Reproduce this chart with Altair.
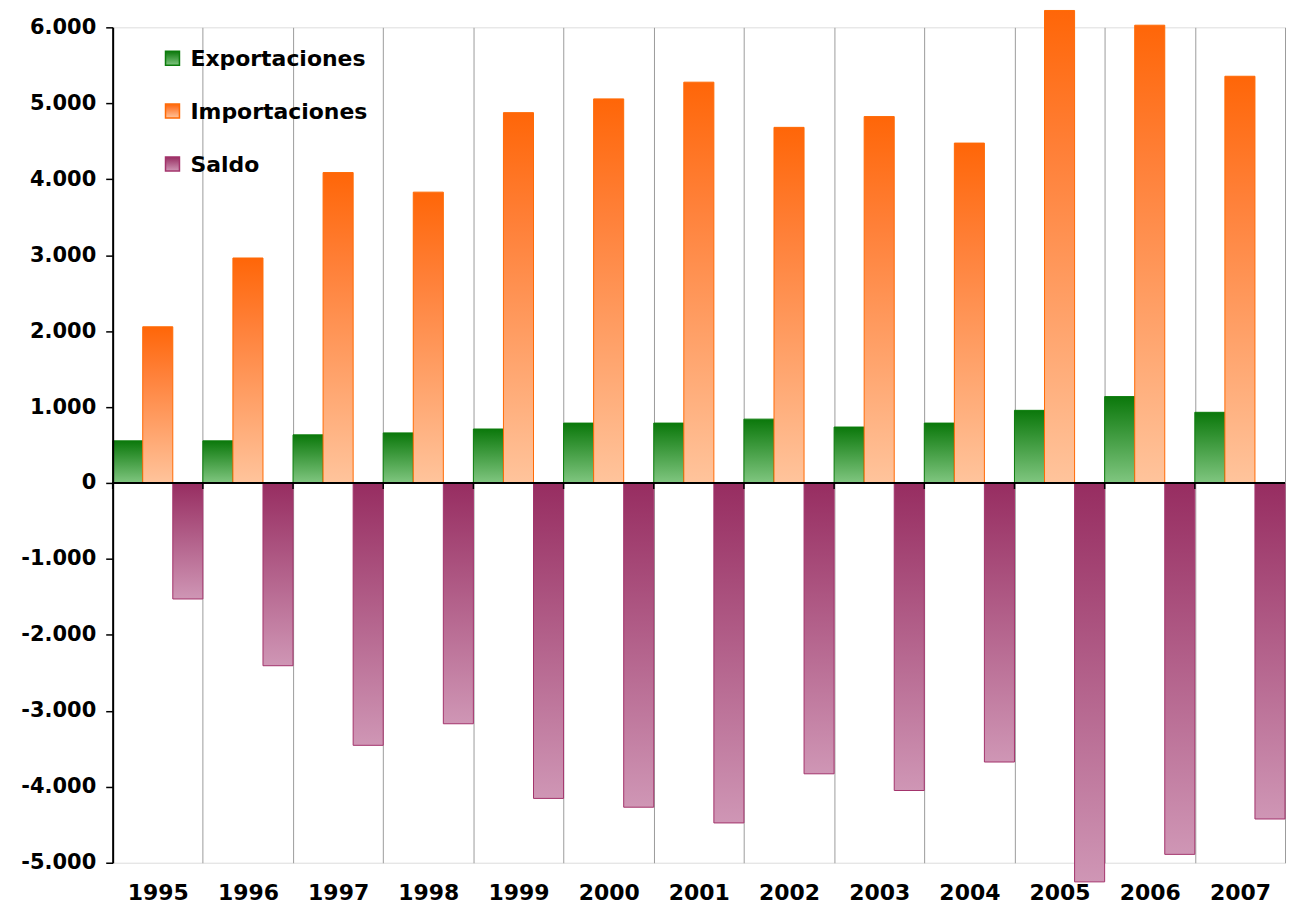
import altair as alt
import pandas as pd

years = ["1995", "1996", "1997", "1998", "1999", "2000", "2001",
         "2002", "2003", "2004", "2005", "2006", "2007"]
series = ["Exportaciones", "Importaciones", "Saldo"]
exportaciones = [555, 555, 634, 660, 711, 789, 789, 841, 737, 789, 957, 1138, 931]
importaciones = [2057, 2963, 4088, 3830, 4877, 5058, 5278, 4683, 4825, 4476, 6222, 6028, 5356]
saldo = [-1527, -2406, -3454, -3170, -4153, -4269, -4476, -3829, -4049, -3674, -5252, -4890, -4424]
y_ticks = [-5000, -4000, -3000, -2000, -1000, 0, 1000, 2000, 3000, 4000, 5000, 6000]

values_by_series = {"Exportaciones": exportaciones, "Importaciones": importaciones, "Saldo": saldo}
rows = []
for s in series:
    for yr, v in zip(years, values_by_series[s]):
        rows.append({"year": yr, "serie": s, "value": v})
df = pd.DataFrame(rows)

styles = {
    "Exportaciones": {"stroke": "#0c7c0c", "stops": [(0, "#0b780b"), (1, "#80c680")]},
    "Importaciones": {"stroke": "#ff6a05", "stops": [(0, "#ff6608"), (0.3, "#ff8038"), (1, "#ffc49c")]},
    "Saldo": {"stroke": "#a3336b", "stops": [(0, "#972d61"), (1, "#cf96b5")]},
}

def grad(stops):
    return alt.LinearGradient(
        gradient="linear",
        stops=[alt.GradientStop(offset=o, color=c) for o, c in stops],
        x1=0, x2=0, y1=0, y2=1,
    )

FONT = "DejaVu Sans"

x_enc = alt.X(
    "year:N",
    sort=years,
    scale=alt.Scale(paddingInner=0, paddingOuter=0),
    axis=alt.Axis(
        title=None, orient="bottom", domain=False, ticks=False, grid=True,
        tickBand="extent", gridColor="#9c9c9c", gridWidth=1,
        labelAngle=0, labelFont=FONT, labelFontSize=22, labelFontWeight="bold",
        labelColor="black", labelPadding=20,
    ),
)
y_enc = alt.Y(
    "value:Q",
    scale=alt.Scale(domain=[-5000, 6000], nice=False, zero=False),
    axis=alt.Axis(
        title=None, values=y_ticks, grid=False, domainColor="black", domainWidth=2,
        tickColor="black", tickSize=7, tickWidth=1.5, labelFont=FONT,
        labelFontSize=21, labelFontWeight="bold", labelColor="black", labelPadding=10,
        labelExpr="(datum.value < 0 ? '-' : '') + replace(format(abs(datum.value), ','), ',', '.')",
        zindex=1,
    ),
)
xo_enc = alt.XOffset("serie:N", sort=series, scale=alt.Scale(domain=series, paddingInner=0, paddingOuter=0))

layers = []
for s in series:
    st = styles[s]
    layers.append(
        alt.Chart(df).transform_filter(alt.datum.serie == s)
        .mark_bar(fill=grad(st["stops"]), stroke=st["stroke"], strokeWidth=1)
        .encode(x=x_enc, xOffset=xo_enc, y=y_enc)
    )

zero_line = alt.Chart(df).mark_rule(color="black", strokeWidth=2).encode(y=alt.datum(0))
zero_ticks = (
    alt.Chart(pd.DataFrame({"year": years}))
    .mark_rule(color="black", strokeWidth=1.5, y2Offset=6)
    .encode(x=alt.X("year:N", sort=years, bandPosition=0), y=alt.datum(0), y2=alt.datum(0))
)

legend_y = [31, 84, 137]
legend_layers = []
for s, ly in zip(series, legend_y):
    st = styles[s]
    ldf = pd.DataFrame({"serie": [s]})
    legend_layers.append(
        alt.Chart(ldf).mark_rect(fill=grad(st["stops"]), stroke=st["stroke"], strokeWidth=1.5)
        .encode(x=alt.value(53), x2=alt.value(67), y=alt.value(ly - 7), y2=alt.value(ly + 7))
    )
    legend_layers.append(
        alt.Chart(ldf).mark_text(align="left", baseline="middle", font=FONT, fontSize=22,
                                 fontWeight="bold", color="black")
        .encode(x=alt.value(78), y=alt.value(ly + 1), text="serie:N")
    )

chart = (
    alt.layer(*layers, zero_line, zero_ticks, *legend_layers)
    .properties(width=1176, height=838, padding={"left": 12, "top": 0, "right": 0, "bottom": 0})
    .configure_view(strokeWidth=0)
    .configure(background="white")
)

chart.save("out.html", embed_options={"renderer": "svg", "actions": False})
